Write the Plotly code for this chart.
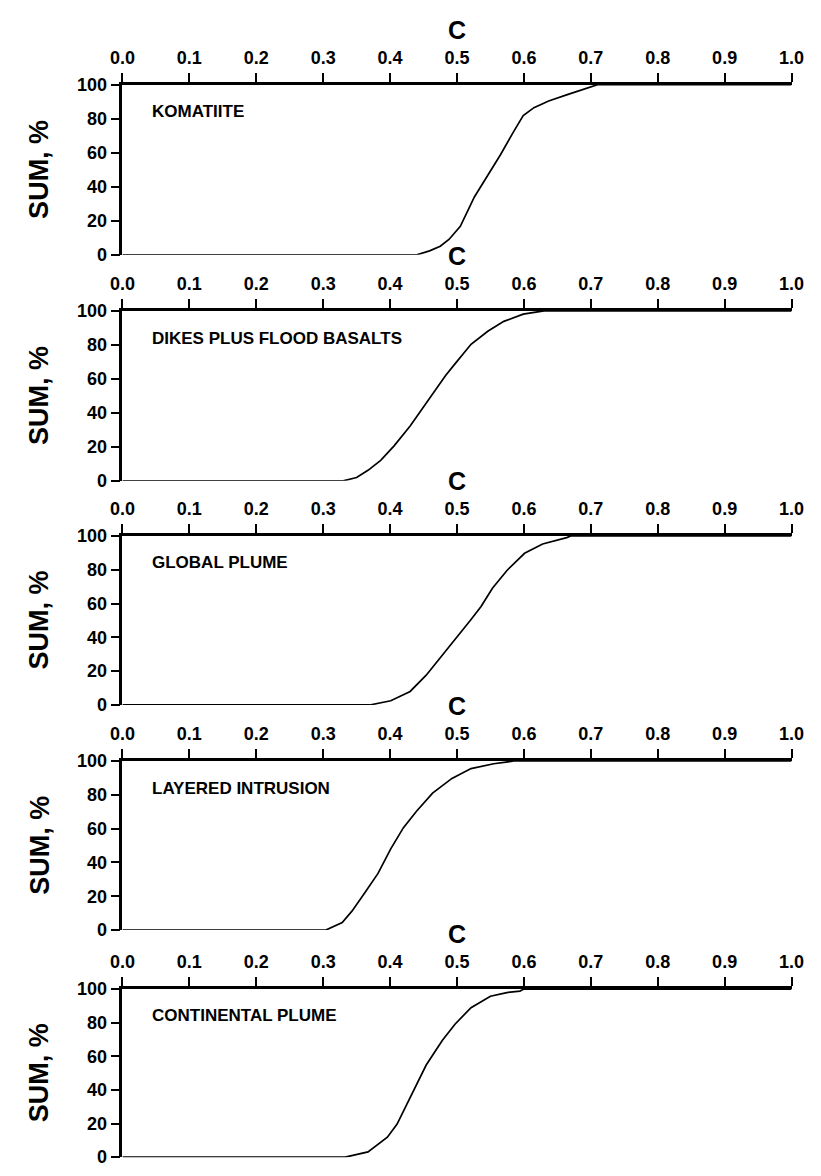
import plotly.graph_objects as go

# ---- data ----
panel_names = ["KOMATIITE", "DIKES PLUS FLOOD BASALTS", "GLOBAL PLUME",
               "LAYERED INTRUSION", "CONTINENTAL PLUME"]

komatiite_c = [0.0, 0.44, 0.459, 0.475, 0.488, 0.505, 0.526, 0.541, 0.565, 0.584,
               0.599, 0.615, 0.637, 0.666, 0.698, 0.71, 1.0]
komatiite_sum = [0, 0, 2.3, 5, 9, 16.7, 34, 43.5, 58.8, 72,
                 81.8, 86.5, 90.4, 94.3, 98.7, 100, 100]

dikes_c = [0.0, 0.33, 0.35, 0.367, 0.386, 0.406, 0.430, 0.449, 0.468, 0.483,
           0.497, 0.521, 0.546, 0.570, 0.599, 0.618, 0.63, 1.0]
dikes_sum = [0, 0, 2, 6.2, 12, 20.6, 32.2, 42.8, 53.4, 62,
             68.8, 80.3, 88, 93.8, 98, 99.2, 100, 100]

global_c = [0.0, 0.3695, 0.401, 0.430, 0.454, 0.478, 0.502, 0.521, 0.536, 0.553,
            0.575, 0.601, 0.628, 0.657, 0.664, 0.67, 1.0]
global_sum = [0, 0, 2.5, 8, 17.6, 29.3, 40.9, 50.6, 58.3, 69,
              79.7, 89.7, 95.2, 98.1, 99, 100, 100]

layered_c = [0.0, 0.304, 0.3285, 0.343, 0.362, 0.382, 0.401, 0.420, 0.4395, 0.4635,
             0.4925, 0.521, 0.555, 0.579, 0.585, 1.0]
layered_sum = [0, 0, 4.5, 11.2, 21.9, 33.5, 48, 60.6, 70.3, 81,
               89.7, 95.5, 98.4, 99.4, 100, 100]

continental_c = [0.0, 0.333, 0.367, 0.396, 0.4105, 0.425, 0.4395, 0.454, 0.478, 0.497,
                 0.521, 0.550, 0.5745, 0.594, 0.60, 1.0]
continental_sum = [0, 0, 3.1, 11.9, 19.7, 31.4, 43.1, 54.8, 69.4, 79.1,
                   88.9, 95.7, 97.9, 98.8, 100, 100]

series_c = [komatiite_c, dikes_c, global_c, layered_c, continental_c]
series_sum = [komatiite_sum, dikes_sum, global_sum, layered_sum, continental_sum]

x_ticks = [0.0, 0.1, 0.2, 0.3, 0.4, 0.5, 0.6, 0.7, 0.8, 0.9, 1.0]
x_tick_text = ["0.0", "0.1", "0.2", "0.3", "0.4", "0.5", "0.6", "0.7", "0.8", "0.9", "1.0"]
y_ticks = [0, 20, 40, 60, 80, 100]
x_title = "C"
y_title = "SUM, %"

# ---- layout geometry (pixels) ----
W, H = 821, 1176
left_px, right_px = 113, 804
tops_px = [76, 306, 535, 764, 996]
bottoms_px = [249, 479, 707, 936, 1167]

FONT = "Liberation Sans"

fig = go.Figure()
layout = dict(
    width=W, height=H,
    margin=dict(l=0, r=0, t=0, b=0),
    paper_bgcolor="white", plot_bgcolor="white",
    showlegend=False,
    annotations=[],
)

for i in range(5):
    n = "" if i == 0 else str(i + 1)
    xa, ya = "x" + n, "y" + n
    fig.add_trace(go.Scatter(
        x=series_c[i], y=series_sum[i], mode="lines",
        line=dict(color="black", width=1.7),
        xaxis=xa, yaxis=ya, hoverinfo="skip",
    ))
    ydom = [1 - bottoms_px[i] / H, 1 - tops_px[i] / H]
    layout["xaxis" + n] = dict(
        domain=[left_px / W, right_px / W], anchor=ya, side="top",
        range=[0, 1.0], tickvals=x_ticks, ticktext=x_tick_text,
        ticks="outside", ticklen=9, tickwidth=2, tickcolor="black",
        showline=True, linewidth=3, linecolor="black",
        showgrid=False, zeroline=False,
        tickfont=dict(family=FONT, size=18, color="black", weight="bold"),
        ticklabelstandoff=2,
    )
    layout["yaxis" + n] = dict(
        domain=ydom, anchor=xa, range=[0, 100],
        tickvals=y_ticks, ticks="outside", ticklen=9, tickwidth=2,
        tickcolor="black", showline=True, linewidth=2.5, linecolor="black",
        showgrid=False, zeroline=False,
        tickfont=dict(family=FONT, size=18, color="black", weight="bold"),
    )
    # axis title "C" above the top axis
    layout["annotations"].append(dict(
        text=x_title, xref="x" + n, yref="paper", x=0.5,
        y=1 - (tops_px[i] - 56) / H, showarrow=False,
        xanchor="center", yanchor="middle",
        font=dict(family=FONT, size=25, color="black", weight="bold"),
    ))
    # y axis title
    layout["annotations"].append(dict(
        text=y_title, xref="paper", yref="paper", x=27 / W,
        y=1 - (tops_px[i] + bottoms_px[i]) / 2 / H, textangle=-90,
        showarrow=False, xanchor="center", yanchor="middle",
        font=dict(family=FONT, size=27, color="black", weight="bold"),
    ))
    # panel label
    layout["annotations"].append(dict(
        text=panel_names[i], xref="x" + n, yref="y" + n, x=0.0415, y=84,
        showarrow=False, xanchor="left", yanchor="middle",
        font=dict(family=FONT, size=17, color="black", weight="bold"),
    ))

fig.update_layout(**layout)
fig.write_html(
    "out.html",
    post_script="document.body.style.margin='0';document.body.style.padding='0';"
                "document.documentElement.style.overflow='hidden';",
)
